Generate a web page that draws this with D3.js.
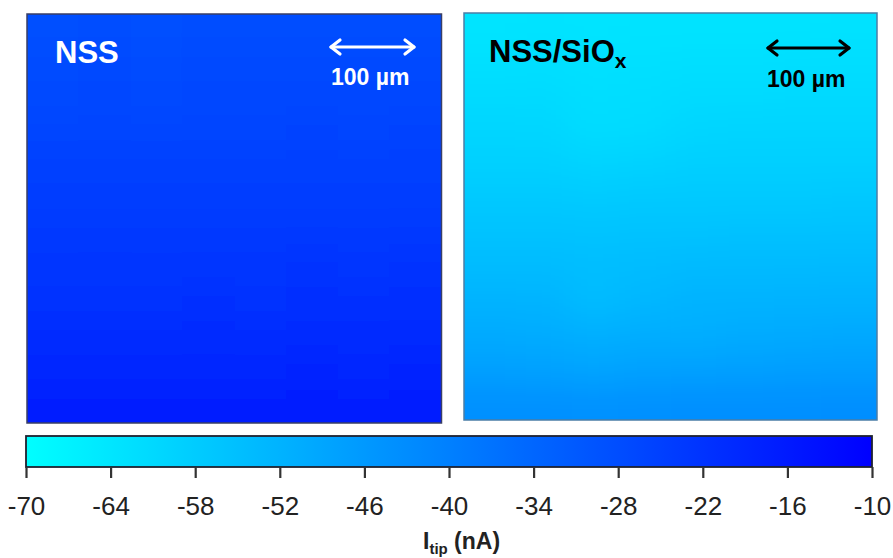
<!DOCTYPE html>
<html>
<head>
<meta charset="utf-8">
<script src="https://cdn.jsdelivr.net/npm/d3@7/dist/d3.min.js"></script>
<style>
  html, body { margin: 0; padding: 0; background: #ffffff; }
  svg { display: block; font-family: "Liberation Sans", Arial, Helvetica, sans-serif; }
</style>
</head>
<body>
<svg id="chart" width="893" height="558"></svg>
<script>
// Colour scale of the tip current (nA)
const currentDomain = [-70, -10];
const colorTicks = [-70, -64, -58, -52, -46, -40, -34, -28, -22, -16, -10];
const colorStops = ["#00ffff", "#0000ff"];

// Tip current maps, rows top to bottom, columns left to right (nA)
const nssCurrent = [
  [-28.6, -28.4, -28.5, -28.3, -28.4, -28.2, -28.3, -28.1],
  [-27.6, -27.5, -27.6, -27.4, -27.5, -27.3, -27.4, -27.2],
  [-26.9, -26.8, -26.9, -26.7, -26.8, -26.6, -26.7, -26.5],
  [-26.1, -26.0, -26.1, -25.9, -26.0, -25.8, -25.9, -25.7],
  [-25.3, -25.2, -25.3, -25.1, -25.2, -25.0, -25.1, -24.9],
  [-24.4, -24.3, -24.4, -24.2, -24.3, -24.1, -24.2, -24.0],
  [-23.4, -23.3, -23.4, -23.2, -23.3, -23.1, -23.2, -23.0],
  [-22.4, -22.3, -22.4, -22.2, -22.3, -22.1, -22.2, -22.0],
  [-21.3, -21.2, -21.3, -21.1, -21.2, -21.0, -21.1, -20.9],
  [-20.1, -20.0, -20.1, -19.9, -20.0, -19.8, -19.9, -19.7],
  [-18.8, -18.7, -18.8, -18.6, -18.7, -18.5, -18.6, -18.4],
  [-17.2, -17.1, -17.2, -17.0, -17.1, -16.9, -17.0, -16.8]
];

const nssSioxCurrent = [
  [-63.6, -63.5, -63.6, -63.4, -63.5, -63.4, -63.3, -63.2],
  [-62.6, -62.5, -63.0, -62.7, -62.4, -62.4, -62.3, -62.2],
  [-61.3, -61.4, -62.2, -62.0, -61.2, -61.2, -61.1, -61.0],
  [-60.1, -60.3, -61.8, -61.2, -60.0, -59.9, -59.9, -59.8],
  [-58.9, -59.0, -59.6, -59.2, -58.8, -58.7, -58.7, -58.6],
  [-57.4, -57.4, -57.5, -57.4, -57.3, -57.2, -57.2, -57.1],
  [-55.7, -55.7, -55.8, -55.6, -55.6, -55.5, -55.5, -55.4],
  [-53.9, -54.0, -54.6, -54.2, -53.8, -53.8, -53.7, -53.6],
  [-52.1, -52.4, -54.2, -53.0, -52.2, -52.0, -51.9, -51.8],
  [-50.1, -50.4, -51.2, -50.6, -51.0, -50.2, -49.9, -49.8],
  [-47.7, -48.2, -48.9, -48.0, -47.8, -47.6, -47.5, -47.4],
  [-43.8, -43.9, -44.2, -43.9, -43.7, -43.6, -43.6, -43.5]
];

const panelTitles = ["NSS", "NSS/SiO"];
const scaleBarLabel = "100 µm";

const svg = d3.select("#chart");
const defs = svg.append("defs");

const color = d3.scaleLinear().domain(currentDomain).range(colorStops).interpolate(d3.interpolateRgb);

// Soft blur for the scanned maps
defs.append("filter")
  .attr("id", "soften")
  .attr("filterUnits", "userSpaceOnUse")
  .attr("x", -100).attr("y", -100).attr("width", 1100).attr("height", 700)
  .append("feGaussianBlur").attr("stdDeviation", 16);

const panels = [
  { data: nssCurrent, x0: 27, x1: 441.5, y0: 14, y1: 423, title: panelTitles[0], sub: "", ink: "#ffffff",
    titleX: 55, titleY: 63, barX0: 330, barX1: 415, barY: 47, labelX: 331, labelY: 85, border: "#3a3f66" },
  { data: nssSioxCurrent, x0: 464, x1: 877, y0: 13, y1: 420, title: panelTitles[1], sub: "x", ink: "#000000",
    titleX: 489, titleY: 62, barX0: 767, barX1: 850, barY: 48, labelX: 767, labelY: 87, border: "#4b7da6" }
];

panels.forEach((p, i) => {
  const rows = p.data.length, cols = p.data[0].length;
  const xs = d3.scaleLinear().domain([0, cols]).range([p.x0, p.x1]);
  const ys = d3.scaleLinear().domain([0, rows]).range([p.y0, p.y1]);
  const pad = 40;

  defs.append("clipPath").attr("id", "clip" + i)
    .append("rect").attr("x", p.x0).attr("y", p.y0)
    .attr("width", p.x1 - p.x0).attr("height", p.y1 - p.y0);

  const cells = [];
  p.data.forEach((row, r) => row.forEach((v, c) => cells.push({ r, c, v })));

  const g = svg.append("g").attr("clip-path", `url(#clip${i})`);
  g.append("g").attr("filter", "url(#soften)")
    .selectAll("rect").data(cells).join("rect")
    .attr("x", d => xs(d.c) - (d.c === 0 ? pad : 0))
    .attr("y", d => ys(d.r) - (d.r === 0 ? pad : 0))
    .attr("width", d => xs(d.c + 1) - xs(d.c) + (d.c === 0 ? pad : 0) + (d.c === cols - 1 ? pad : 0) + 0.5)
    .attr("height", d => ys(d.r + 1) - ys(d.r) + (d.r === 0 ? pad : 0) + (d.r === rows - 1 ? pad : 0) + 0.5)
    .attr("fill", d => color(d.v));

  svg.append("rect")
    .attr("x", p.x0).attr("y", p.y0)
    .attr("width", p.x1 - p.x0).attr("height", p.y1 - p.y0)
    .attr("fill", "none").attr("stroke", p.border).attr("stroke-width", 1.5);

  // Sample name
  const t = svg.append("text")
    .attr("x", p.titleX).attr("y", p.titleY)
    .attr("fill", p.ink).attr("font-size", 31).attr("font-weight", "bold")
    .text(p.title);
  if (p.sub) {
    t.append("tspan").attr("font-size", 21).attr("dy", 6).text(p.sub);
  }

  // Scale bar: double-headed arrow
  const sb = svg.append("g").attr("stroke", p.ink).attr("stroke-width", 3.2)
    .attr("fill", "none").attr("stroke-linecap", "round").attr("stroke-linejoin", "round");
  sb.append("line").attr("x1", p.barX0 + 1).attr("x2", p.barX1 - 1).attr("y1", p.barY).attr("y2", p.barY);
  sb.append("path").attr("d", `M${p.barX0 + 10},${p.barY - 7} L${p.barX0 + 1},${p.barY} L${p.barX0 + 10},${p.barY + 7}`);
  sb.append("path").attr("d", `M${p.barX1 - 10},${p.barY - 7} L${p.barX1 - 1},${p.barY} L${p.barX1 - 10},${p.barY + 7}`);

  svg.append("text")
    .attr("x", p.labelX).attr("y", p.labelY)
    .attr("fill", p.ink).attr("font-size", 23).attr("font-weight", "bold")
    .text(scaleBarLabel);
});

// Colour bar
const cb = { x0: 26, x1: 872, y0: 436, y1: 467 };
const cx = d3.scaleLinear().domain(currentDomain).range([cb.x0, cb.x1]);

const grad = defs.append("linearGradient").attr("id", "cbar")
  .attr("x1", "0%").attr("x2", "100%").attr("y1", "0%").attr("y2", "0%");
colorTicks.forEach(v => {
  grad.append("stop")
    .attr("offset", ((v - currentDomain[0]) / (currentDomain[1] - currentDomain[0]) * 100) + "%")
    .attr("stop-color", color(v));
});

svg.append("rect")
  .attr("x", cb.x0).attr("y", cb.y0)
  .attr("width", cb.x1 - cb.x0).attr("height", cb.y1 - cb.y0)
  .attr("fill", "url(#cbar)").attr("stroke", "#1e2230").attr("stroke-width", 1.8);

const axis = svg.append("g")
  .attr("transform", `translate(0,${cb.y1})`)
  .call(d3.axisBottom(cx).tickValues(colorTicks).tickSize(11).tickPadding(18.5).tickFormat(d3.format("d")));
axis.select(".domain").remove();
axis.selectAll(".tick line").attr("stroke", "#333").attr("stroke-width", 2.2);
axis.selectAll(".tick text")
  .attr("font-size", 26).attr("fill", "#222")
  .attr("font-family", "\"Liberation Sans\", Arial, sans-serif")
  .text(d => d < 0 ? "-" + Math.abs(d) : d);

// Colour bar title
const cbTitle = svg.append("text")
  .attr("x", 423).attr("y", 549)
  .attr("font-size", 23).attr("font-weight", "bold").attr("fill", "#222");
cbTitle.append("tspan").text("I");
cbTitle.append("tspan").attr("font-size", 15).attr("dy", 4.5).text("tip");
cbTitle.append("tspan").attr("dy", -4.5).text(" (nA)");
</script>
</body>
</html>
